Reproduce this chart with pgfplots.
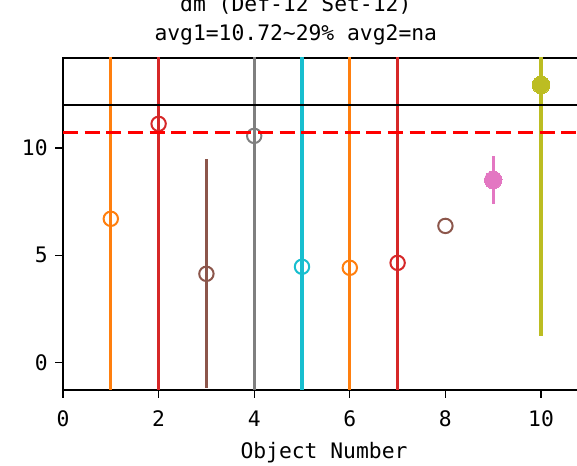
\documentclass[border=0pt]{standalone}
\usepackage{fontspec}
\setmainfont{DejaVu Sans Mono}
\usepackage{pgfplots}
\pgfplotsset{compat=1.18}
\definecolor{tOrange}{HTML}{FF7F0E}
\definecolor{tRed}{HTML}{D62728}
\definecolor{tBrown}{HTML}{8C564B}
\definecolor{tGray}{HTML}{7F7F7F}
\definecolor{tCyan}{HTML}{17BECF}
\definecolor{tPink}{HTML}{E377C2}
\definecolor{tOlive}{HTML}{BCBD22}
\newcommand{\bigfont}{\fontsize{16}{19}\selectfont}
\begin{document}
\begin{tikzpicture}
\begin{axis}[
  scale only axis,
  clip mode=individual,
  width=391.5pt, height=249pt,
  xmin=0, xmax=10.92, ymin=-1.26, ymax=14.19,
  xtick={0,2,4,6,8,10}, ytick={0,5,10},
  tick align=outside, tick pos=left,
  major tick length=6pt,
  every tick/.style={black, line width=1pt},
  axis line style={line width=1.1pt},
  tick label style={font=\bigfont},
  /pgf/number format/assume math mode=true,
  xticklabel style={yshift=-6pt},
  yticklabel style={xshift=-2pt},
  pt/.style={only marks, mark=o, mark size=5.4pt, mark options={line width=1.5pt},
    error bars/.cd, y dir=both, y explicit, error mark=none,
    error bar style={line width=2.3pt}, /pgfplots/.cd},
  fpt/.style={only marks, mark=*, mark size=6.6pt, mark options={line width=0pt},
    error bars/.cd, y dir=both, y explicit, error mark=none,
    error bar style={line width=2.3pt}, /pgfplots/.cd},
]
\addplot[color=tOrange, pt] coordinates {(1,6.70) +- (0,40)};
\addplot[color=tRed, pt] coordinates {(2,11.12) +- (0,40)};
\addplot[color=tBrown, pt] coordinates {(3,4.14) += (0,5.35) -= (0,5.30)};
\addplot[color=tGray, pt] coordinates {(4,10.56) +- (0,40)};
\addplot[color=tCyan, pt] coordinates {(5,4.47) +- (0,40)};
\addplot[color=tOrange, pt] coordinates {(6,4.42) +- (0,40)};
\addplot[color=tRed, pt] coordinates {(7,4.65) +- (0,40)};
\addplot[color=tBrown, pt] coordinates {(8,6.37) +- (0,0)};
\addplot[color=tPink, fpt] coordinates {(9,8.51) += (0,1.12) -= (0,1.11)};
\addplot[color=tOlive, fpt] coordinates {(10,12.93) += (0,40) -= (0,11.67)};
\addplot[black, line width=1.2pt] coordinates {(0,12) (10.92,12)};
\addplot[red, line width=2.3pt, dash pattern=on 11.25pt off 5pt] coordinates {(0,10.72) (10.92,10.72)};
\node[font=\bigfont, anchor=base] at (axis cs:4.87,16.37) {dm (Def-12 Set-12)};
\node[font=\bigfont, anchor=base] at (axis cs:4.87,15.02) {avg1=10.72\textasciitilde29\% avg2=na};
\node[font=\bigfont, anchor=base] at (axis cs:5.46,-4.47) {Object Number};
\coordinate (bbl) at (axis cs:-1.318,-4.791);
\coordinate (btr) at (axis cs:10.753,16.884);
\end{axis}
\pgfresetboundingbox
\useasboundingbox (bbl) rectangle (btr);
\end{tikzpicture}
\end{document}
